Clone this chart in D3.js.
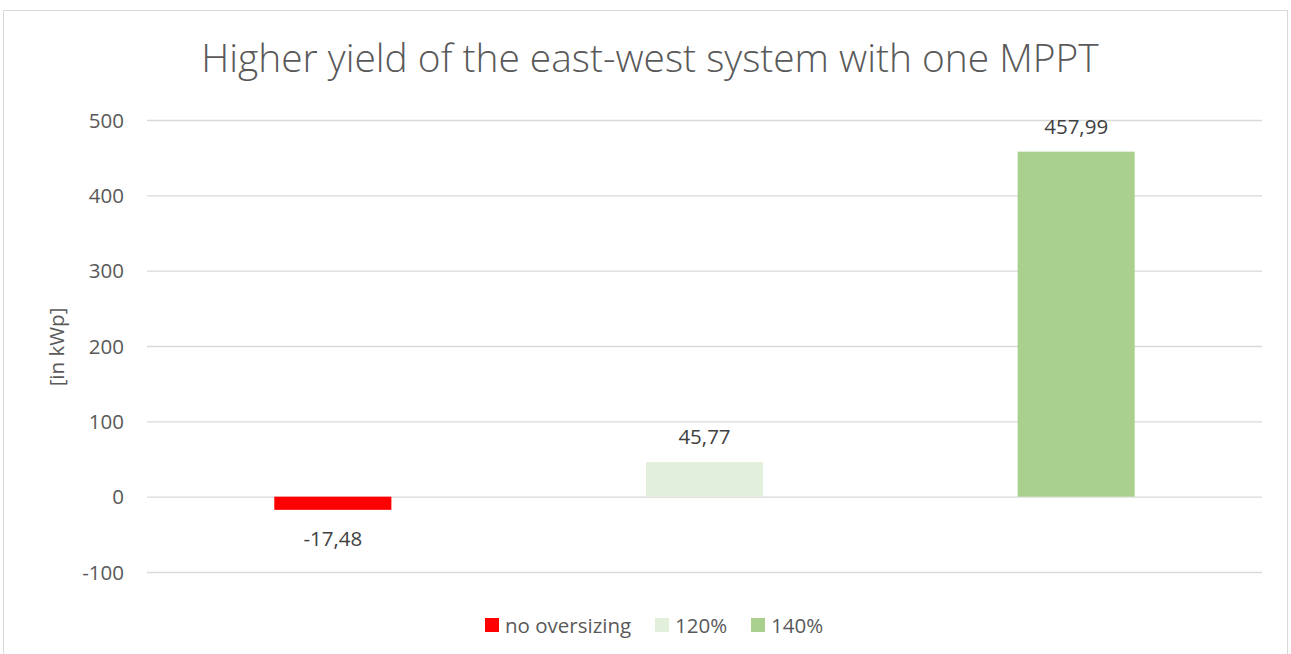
<!DOCTYPE html>
<html>
<head>
<meta charset="utf-8">
<script src="https://cdn.jsdelivr.net/npm/d3@7"></script>
<style>
  html, body { margin: 0; padding: 0; background: #fff; }
  svg { display: block; font-family: "Open Sans", "Liberation Sans", sans-serif; }
</style>
</head>
<body>
<div id="chart"></div>
<script>
// chart data
const categories = ["no oversizing", "120%", "140%"];
const values = [-17.48, 45.77, 457.99];
const colors = ["#FF0000", "#E2EFDA", "#A9D08E"];
const yTicks = [-100, 0, 100, 200, 300, 400, 500];

const W = 1291, H = 654;
const textColor = "#595959";
const fontFam = '"Open Sans", "Liberation Sans", sans-serif';

const svg = d3.select("#chart").append("svg")
    .attr("width", W)
    .attr("height", H);

// outer frame
svg.append("rect")
    .attr("x", 3.5).attr("y", 10.5)
    .attr("width", 1284).attr("height", 700)
    .attr("fill", "none")
    .attr("stroke", "#D9D9D9");

// scales
const x = d3.scaleBand().domain(categories).range([147, 1262]).padding(0);
const y = d3.scaleLinear().domain([-100, 500]).range([572, 120]);
const barW = x.bandwidth() * 0.315;

// gridlines + tick labels
const yAxis = d3.axisLeft(y)
    .tickValues(yTicks)
    .tickFormat(d => String(d))
    .tickSize(-(1262 - 147))
    .tickPadding(23);
const gAxis = svg.append("g")
    .attr("transform", "translate(147,0)")
    .call(yAxis)
    .attr("font-family", fontFam)
    .attr("font-size", null);
gAxis.select(".domain").remove();
gAxis.selectAll(".tick line").attr("stroke", "#D9D9D9").attr("stroke-width", 1.3);
gAxis.selectAll(".tick text")
    .attr("fill", textColor)
    .attr("dy", "0.35em")
    .style("font-size", "20.5px");

// y axis title
svg.append("text")
    .attr("transform", `translate(64,${(120 + 572) / 2 + 1}) rotate(-90)`)
    .attr("text-anchor", "middle")
    .attr("fill", textColor)
    .style("font-size", "20.5px")
    .text("[in kWp]");

// bars
svg.selectAll(".bar")
    .data(values)
    .enter().append("rect")
    .attr("class", "bar")
    .attr("x", (d, i) => x(categories[i]) + x.bandwidth() / 2 - barW / 2)
    .attr("y", d => y(Math.max(0, d)))
    .attr("width", barW)
    .attr("height", d => Math.abs(y(d) - y(0)))
    .attr("fill", (d, i) => colors[i]);

// data labels
const fmt = d => d.toFixed(2).replace(".", ",");
svg.selectAll(".lbl")
    .data(values)
    .enter().append("text")
    .attr("class", "lbl")
    .attr("x", (d, i) => x(categories[i]) + x.bandwidth() / 2)
    .attr("y", d => d >= 0 ? y(d) - 18 : y(d) + 36)
    .attr("text-anchor", "middle")
    .attr("fill", "#404040")
    .style("font-size", "20.5px")
    .text(fmt);

// title, fitted to the width it takes in the picture
const title = svg.append("text")
    .attr("x", 650).attr("y", 72)
    .attr("text-anchor", "middle")
    .attr("fill", textColor)
    .style("font-size", "40px")
    .style("font-weight", 300)
    .text("Higher yield of the east-west system with one MPPT");
const tw = title.node().getComputedTextLength();
title.style("font-size", (40 * 897 / tw).toFixed(1) + "px");

// legend
const legendX = [485, 655, 751];
const leg = svg.selectAll(".leg")
    .data(categories)
    .enter().append("g")
    .attr("class", "leg")
    .attr("transform", (d, i) => `translate(${legendX[i]},625)`);
leg.append("rect")
    .attr("x", 0).attr("y", -7)
    .attr("width", 14).attr("height", 14)
    .attr("fill", (d, i) => colors[i]);
leg.append("text")
    .attr("x", 20).attr("y", 7.5)
    .attr("fill", textColor)
    .style("font-size", "20.5px")
    .text(d => d);
</script>
</body>
</html>
